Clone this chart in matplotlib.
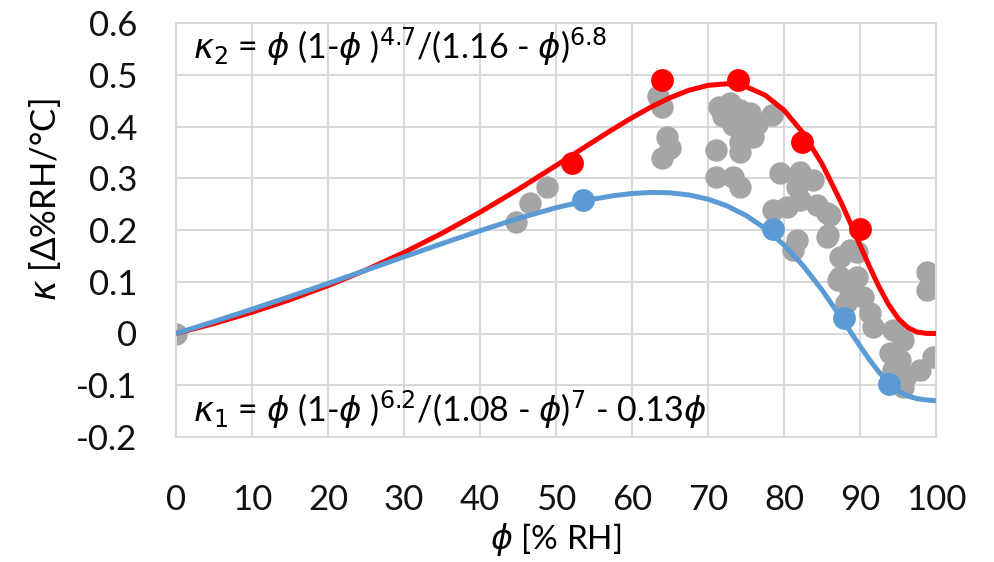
import matplotlib
matplotlib.use("Agg")
import matplotlib.pyplot as plt

plt.rcParams['font.family'] = ['Lato', 'DejaVu Sans']
plt.rcParams['mathtext.fontset'] = 'dejavusans'

# fitted curves
phi_curve = [0, 5, 10, 15, 20, 25, 30, 35, 40, 45, 50, 55, 57.5, 60, 62.5, 65, 67.5, 70,
             72.5, 75, 77.5, 80, 82.5, 85, 87.5, 88.75, 90, 91.25, 92.5, 93.75, 95,
             96.25, 97.5, 98.75, 100]
kappa2_curve = [0, 0.0193, 0.0410, 0.0653, 0.0925, 0.1228, 0.1565, 0.1937, 0.2343, 0.2782,
                0.3245, 0.3717, 0.3948, 0.4170, 0.4376, 0.4556, 0.4700, 0.4795, 0.4825,
                0.4770, 0.4607, 0.4316, 0.3876, 0.3279, 0.2538, 0.2129, 0.1708, 0.1292,
                0.0903, 0.0563, 0.0296, 0.0118, 0.0028, 0.0002, 0]
kappa1_curve = [0, 0.0231, 0.0469, 0.0715, 0.0967, 0.1223, 0.1481, 0.1737, 0.1986, 0.2221,
                0.2430, 0.2599, 0.2662, 0.2705, 0.2726, 0.2719, 0.2677, 0.2596, 0.2466,
                0.2281, 0.2032, 0.1710, 0.1313, 0.0841, 0.0310, 0.0033, -0.0243, -0.0506,
                -0.0746, -0.0950, -0.1105, -0.1206, -0.1259, -0.1284, -0.13]

# measured data (gray)
gray_phi = [0, 44.8, 46.6, 48.8, 63.4, 63.9, 64.6, 65.0, 63.9,
            71.4, 72.9, 74.2, 75.5, 73.3, 75.3, 75.9, 74.2, 74.2, 71.1, 78.4, 71.1, 73.3, 74.2,
            72.0, 76.5,
            79.5, 82.1, 83.8, 81.7, 78.6, 80.4, 82.1, 84.3, 86.1, 85.6, 81.7, 81.2, 87.4, 88.7,
            87.4, 88.7, 85.6, 85.8, 89.6, 87.1, 89.6, 88.2, 90.4, 91.3, 91.7, 94.3, 95.7, 94.0,
            95.3, 94.3, 96.1, 97.9, 99.6, 95.7, 98.8, 98.8]
gray_kappa = [0, 0.216, 0.252, 0.283, 0.458, 0.438, 0.380, 0.358, 0.339,
              0.438, 0.445, 0.432, 0.426, 0.403, 0.393, 0.380, 0.370, 0.350, 0.355, 0.422, 0.303, 0.302, 0.283,
              0.420, 0.405,
              0.310, 0.313, 0.297, 0.284, 0.239, 0.245, 0.258, 0.248, 0.229, 0.187, 0.181, 0.161, 0.148, 0.161,
              0.110, 0.084, 0.232, 0.190, 0.158, 0.103, 0.110, 0.058, 0.071, 0.040, 0.013, 0.007, -0.013, -0.038,
              -0.051, -0.071, -0.083, -0.071, -0.045, -0.103, 0.119, 0.084]

# red markers (kappa2 points) and blue markers (kappa1 points)
red_phi = [52.1, 63.9, 74.0, 82.4, 90.0]
red_kappa = [0.329, 0.490, 0.490, 0.370, 0.202]
blue_phi = [53.6, 78.5, 87.9, 93.8]
blue_kappa = [0.258, 0.201, 0.030, -0.098]

x_ticks = [0, 10, 20, 30, 40, 50, 60, 70, 80, 90, 100]
y_ticks = [-0.2, -0.1, 0, 0.1, 0.2, 0.3, 0.4, 0.5, 0.6]
y_labels = ['-0.2', '-0.1', '0', '0.1', '0.2', '0.3', '0.4', '0.5', '0.6']

RED = '#FF0000'
BLUE = '#5B9BD5'
GRAY = '#A5A5A5'
GRID = '#D9D9D9'

fig = plt.figure(figsize=(9.94, 5.62), dpi=100)
ax = fig.add_axes([176/994, 1-437/562, 760/994, 414/562])

ax.scatter(gray_phi, gray_kappa, s=260, color=GRAY, zorder=2, linewidths=0)
ax.plot(phi_curve, kappa2_curve, color=RED, lw=3.6, zorder=3, solid_capstyle='butt')
ax.plot(phi_curve, kappa1_curve, color=BLUE, lw=3.6, zorder=4, solid_capstyle='butt')
ax.scatter(red_phi, red_kappa, s=270, color=RED, zorder=5, linewidths=0)
ax.scatter(blue_phi, blue_kappa, s=270, color=BLUE, zorder=5, linewidths=0)

ax.set_xlim(0, 100)
ax.set_ylim(-0.2, 0.6)
ax.set_xticks(x_ticks)
ax.set_xticklabels([str(t) for t in x_ticks])
ax.set_yticks(y_ticks)
ax.set_yticklabels(y_labels)
ax.tick_params(axis='both', length=0, labelsize=25, colors='#111111')
ax.tick_params(axis='x', pad=34)
ax.tick_params(axis='y', pad=28)
ax.grid(True, color=GRID, lw=1.5, zorder=0)
ax.set_axisbelow(True)
for s in ax.spines.values():
    s.set_color(GRID)
    s.set_linewidth(1.5)

fig.text(556/994, 1-540/562, r'$\phi$ [% RH]', ha='center', va='center', fontsize=24)
fig.text(45/994, 1-200/562, r'$\kappa$ [Δ%RH/°C]', ha='center', va='center',
         rotation=90, fontsize=25)

ax.text(2.3, 0.555, r'$\kappa_2$ = $\phi$ (1-$\phi$ )$^{4.7}$/(1.16 - $\phi$)$^{6.8}$',
        ha='left', va='center', fontsize=24.5, zorder=6)
ax.text(2.3, -0.148, r'$\kappa_1$ = $\phi$ (1-$\phi$ )$^{6.2}$/(1.08 - $\phi$)$^{7}$ - 0.13$\phi$',
        ha='left', va='center', fontsize=24.5, zorder=6)

fig.savefig('out.png', dpi=100)
